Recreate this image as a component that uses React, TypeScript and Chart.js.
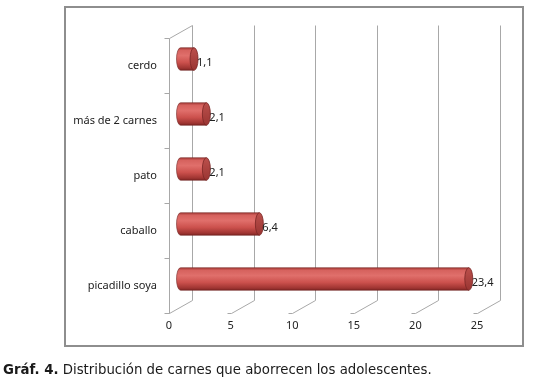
import React, { useEffect, useRef } from "react";
import { Chart, registerables } from "chart.js";
Chart.register(...registerables);

const categories = ["cerdo", "más de 2 carnes", "pato", "caballo", "picadillo soya"];
const values = [1.1, 2.1, 2.1, 6.4, 23.4];
const valueLabels = ["1,1", "2,1", "2,1", "6,4", "23,4"];
const xMin = 0;
const xMax = 25;
const xStep = 5;

const DEPTH_X = 23;
const DEPTH_Y = -13;
const FONT = "'Noto Sans', sans-serif";

const cylinderPlugin = {
  id: "cylinder3d",
  beforeDatasetsDraw(chart: any) {
    const { ctx, chartArea: a, scales } = chart;
    const xs = scales.x;
    ctx.save();
    ctx.strokeStyle = "#a8a8a8";
    ctx.lineWidth = 1;
    ctx.beginPath();
    const L = Math.round(a.left) + 0.5;
    const T = Math.round(a.top) + 0.5;
    const B = Math.round(a.bottom) + 0.5;
    ctx.moveTo(L, B);
    ctx.lineTo(L, T);
    ctx.lineTo(L + DEPTH_X, T + DEPTH_Y);
    xs.ticks.forEach((t: any) => {
      const px = Math.round(xs.getPixelForValue(t.value)) + 0.5;
      ctx.moveTo(px - 4, B);
      ctx.lineTo(px, B);
      ctx.lineTo(px + DEPTH_X, B + DEPTH_Y);
      ctx.lineTo(px + DEPTH_X, T + DEPTH_Y);
    });
    const n = categories.length;
    for (let i = 0; i <= n; i++) {
      const yy = Math.round(a.top + (i * (a.bottom - a.top)) / n) + 0.5;
      ctx.moveTo(L - 5, yy);
      ctx.lineTo(L, yy);
    }
    ctx.stroke();
    ctx.restore();
  },
  afterDatasetsDraw(chart: any) {
    const { ctx } = chart;
    const meta = chart.getDatasetMeta(0);
    ctx.save();
    meta.data.forEach((bar: any, i: number) => {
      const p = bar.getProps(["x", "y", "base", "height"], true);
      const ox = DEPTH_X / 2;
      const oy = DEPTH_Y / 2;
      const x0 = p.base + ox;
      const x1 = p.x + ox;
      const cy = p.y + oy;
      const r = p.height / 2;
      const rx = 4;
      const g = ctx.createLinearGradient(0, cy - r, 0, cy + r);
      g.addColorStop(0, "#a73c39");
      g.addColorStop(0.12, "#d6625e");
      g.addColorStop(0.35, "#e06f6b");
      g.addColorStop(0.65, "#cc514d");
      g.addColorStop(0.9, "#a03532");
      g.addColorStop(1, "#7d2624");
      ctx.beginPath();
      ctx.moveTo(x1, cy - r);
      ctx.lineTo(x0, cy - r);
      ctx.ellipse(x0, cy, rx, r, 0, -Math.PI / 2, Math.PI / 2, true);
      ctx.lineTo(x1, cy + r);
      ctx.closePath();
      ctx.fillStyle = g;
      ctx.fill();
      ctx.strokeStyle = "rgba(110,30,28,0.7)";
      ctx.lineWidth = 0.8;
      ctx.stroke();
      const cg = ctx.createLinearGradient(0, cy - r, 0, cy + r);
      cg.addColorStop(0, "#bb504c");
      cg.addColorStop(1, "#9a3532");
      ctx.beginPath();
      ctx.ellipse(x1, cy, rx, r, 0, 0, Math.PI * 2);
      ctx.fillStyle = cg;
      ctx.fill();
      ctx.strokeStyle = "#7a2624";
      ctx.stroke();
      ctx.fillStyle = "#222";
      ctx.font = `11px ${FONT}`;
      ctx.textAlign = "left";
      ctx.textBaseline = "middle";
      ctx.fillText(valueLabels[i], x1 + rx - 1, cy + 4);
    });
    ctx.restore();
  },
};

export default function App() {
  const ref = useRef<HTMLCanvasElement | null>(null);
  useEffect(() => {
    if (!ref.current) return;
    const chart = new Chart(ref.current, {
      type: "bar",
      data: {
        labels: categories,
        datasets: [
          {
            data: values,
            backgroundColor: "rgba(0,0,0,0)",
            borderWidth: 0,
            categoryPercentage: 1,
            barPercentage: 0.41,
          },
        ],
      },
      options: {
        indexAxis: "y",
        animation: false,
        responsive: false,
        devicePixelRatio: 1,
        layout: { padding: { left: 0, top: 38, right: 78, bottom: 0 } },
        plugins: { legend: { display: false }, tooltip: { enabled: false } },
        scales: {
          x: {
            min: xMin,
            max: xMax,
            ticks: { stepSize: xStep, padding: 6, color: "#222", font: { family: FONT, size: 11 } },
            grid: { display: false, drawTicks: false },
            border: { display: false },
            afterFit: (s: any) => {
              s.height = 384 - 313;
            },
          },
          y: {
            ticks: { padding: 12, color: "#222", font: { family: FONT, size: 11 } },
            grid: { display: false, drawTicks: false },
            border: { display: false },
            afterFit: (s: any) => {
              s.width = 169;
            },
          },
        },
      },
      plugins: [cylinderPlugin],
    });
    return () => chart.destroy();
  }, []);
  return (
    <div style={{ position: "fixed", left: 0, top: 0, width: 555, height: 384, background: "#fff", overflow: "hidden" }}>
      <canvas ref={ref} width={555} height={384} style={{ position: "absolute", left: 0, top: 0, width: 555, height: 384 }} />
      <div
        style={{
          position: "absolute",
          left: 64,
          top: 6,
          width: 456,
          height: 337,
          border: "2px solid #8e8e8e",
        }}
      />
      <div
        style={{
          position: "absolute",
          left: 3,
          top: 361,
          fontFamily: "'DejaVu Sans', Verdana, sans-serif",
          fontSize: 13.3,
          lineHeight: "18px",
          color: "#1a1a1a",
          whiteSpace: "nowrap",
        }}
      >
        <b>Gráf. 4.</b> Distribución de carnes que aborrecen los adolescentes.
      </div>
    </div>
  );
}
